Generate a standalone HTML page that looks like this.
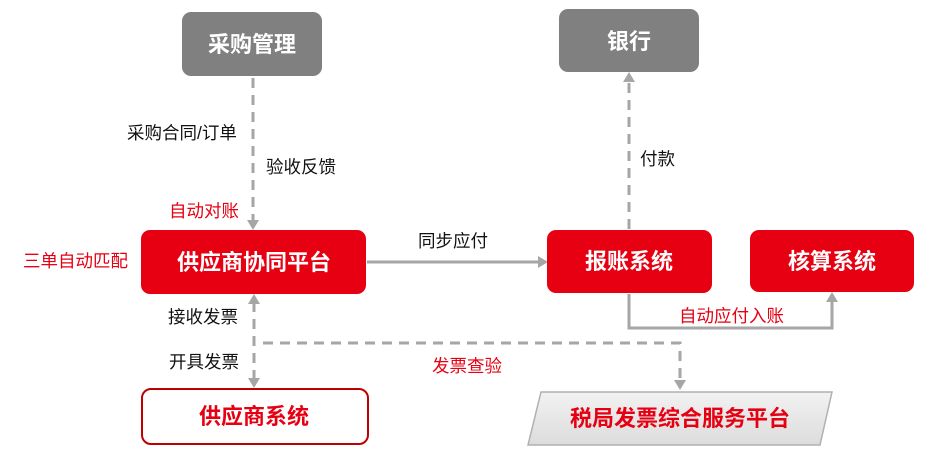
<!DOCTYPE html>
<html><head><meta charset="utf-8"><style>
body{margin:0;background:#fff;width:938px;height:456px;overflow:hidden}
svg text{font-family:"Liberation Sans","Noto Sans CJK SC",sans-serif}
</style></head><body>
<svg width="938" height="456" viewBox="0 0 938 456" xmlns="http://www.w3.org/2000/svg">
<defs>
<linearGradient id="g" x1="0" y1="0" x2="0" y2="1"><stop offset="0" stop-color="#f2f2f2"/><stop offset="1" stop-color="#dcdcdc"/></linearGradient>
</defs>
<g fill="none" stroke="#a6a6a6" stroke-width="3">
<path d="M253 78V222" stroke-dasharray="10,7"/>
<path d="M254 302V380" stroke-dasharray="10,7"/>
<path d="M263 343H680V382" stroke-dasharray="10,7"/>
<path d="M629 229V80" stroke-dasharray="10,7"/>
<path d="M367 262H540"/>
<path d="M629 294V328H832V300"/>
</g>
<g fill="#a6a6a6">
<path d="M247 220L253 230L259 220Z"/>
<path d="M248 304L254 294L260 304Z"/>
<path d="M248 378L254 388L260 378Z"/>
<path d="M674 380L680 390L686 380Z"/>
<path d="M623 82L629 72L635 82Z"/>
<path d="M538 256L548 262L538 268Z"/>
<path d="M826 302L832 292L838 302Z"/>
</g>
<rect x="182" y="12" width="140" height="64" rx="9" fill="#808080"/>
<rect x="559" y="9" width="140" height="63" rx="9" fill="#808080"/>
<rect x="141" y="230" width="225" height="64" rx="9" fill="#e60012"/>
<rect x="547" y="230" width="165" height="63" rx="9" fill="#e60012"/>
<rect x="750" y="230" width="164" height="62" rx="9" fill="#e60012"/>
<rect x="142" y="389" width="226" height="55" rx="9" fill="#fff" stroke="#c00000" stroke-width="2"/>
<path d="M541 392H832L820 445H528Z" fill="url(#g)" stroke="#b0b0b0" stroke-width="1.5"/>
<g font-weight="bold" font-size="22" text-anchor="middle">
<text x="252" y="52" fill="#fff">采购管理</text>
<text x="629" y="49" fill="#fff">银行</text>
<text x="254" y="270" fill="#fff">供应商协同平台</text>
<text x="629" y="269" fill="#fff">报账系统</text>
<text x="832" y="269" fill="#fff">核算系统</text>
<text x="254" y="424" fill="#e60012">供应商系统</text>
<text x="680" y="426" fill="#e60012">税局发票综合服务平台</text>
</g>
<g font-size="17.5" fill="#111">
<text x="127" y="139">采购合同/订单</text>
<text x="266" y="173">验收反馈</text>
<text x="418" y="247">同步应付</text>
<text x="168" y="323">接收发票</text>
<text x="169" y="368">开具发票</text>
<text x="640" y="165">付款</text>
</g>
<g font-size="17.5" fill="#e60012">
<text x="169" y="217">自动对账</text>
<text x="23" y="267">三单自动匹配</text>
<text x="432" y="372">发票查验</text>
<text x="679" y="322">自动应付入账</text>
</g>
</svg>
</body></html>
